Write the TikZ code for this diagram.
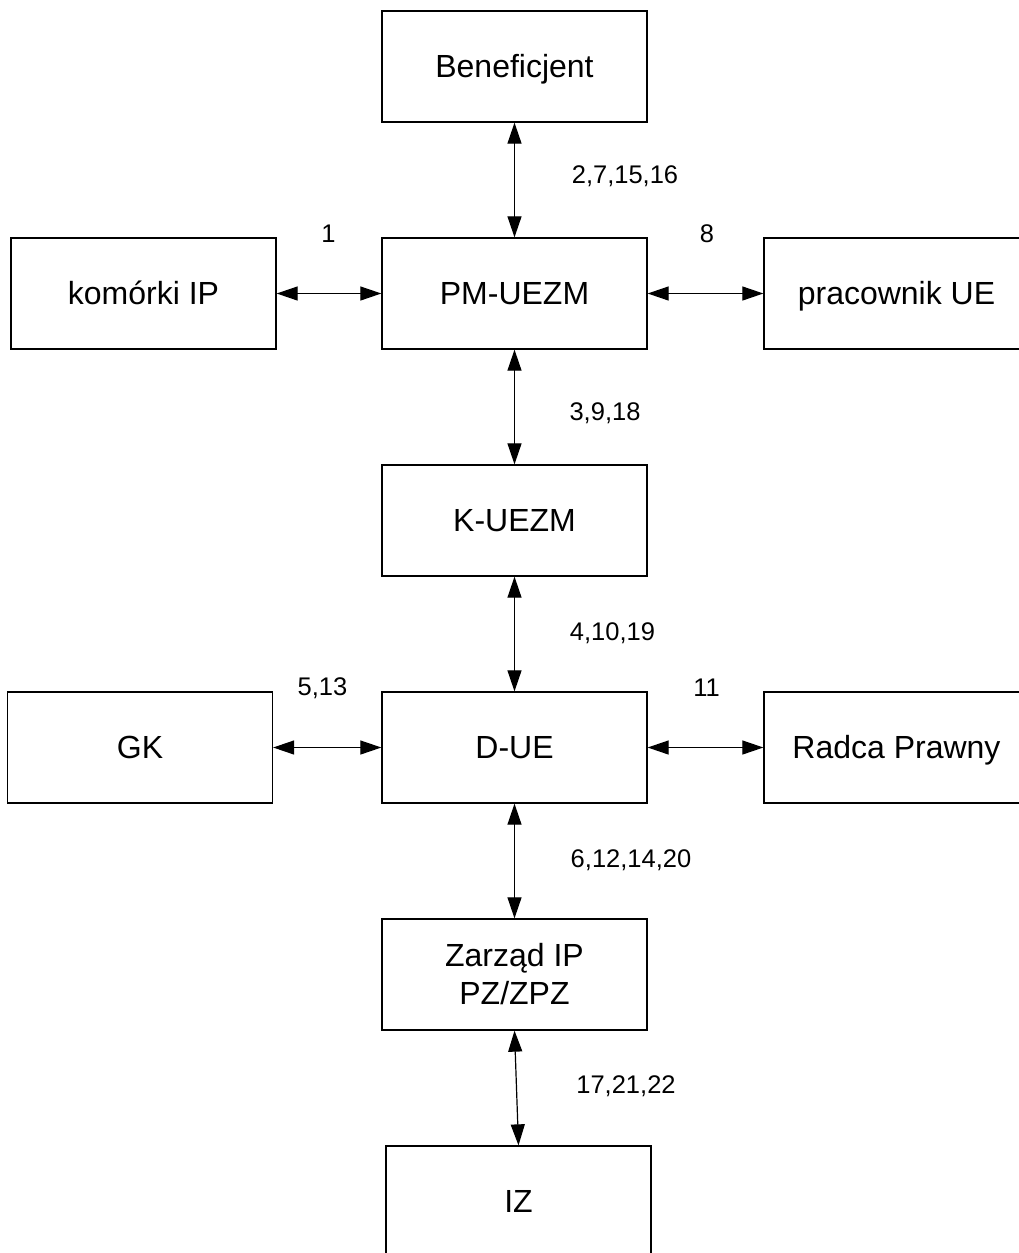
\documentclass[tikz,border=0pt]{standalone}
\usepackage{fontspec}
\setmainfont{Liberation Sans}
\usetikzlibrary{arrows.meta}
\begin{document}
\begin{tikzpicture}[x=1pt,y=-1pt,
  box/.style={draw=black,line width=1.3pt,rectangle,inner sep=0pt,
    minimum width=265pt,minimum height=111pt,align=center,
    font=\fontsize{32}{38}\selectfont},
  oneline/.style={text height=22.9pt,text depth=0pt},
  lab/.style={anchor=base,inner sep=0pt,font=\fontsize{25.5}{30}\selectfont},
  link/.style={line width=1.2pt,{Triangle[length=21pt,width=14pt]}-{Triangle[length=21pt,width=14pt]}}]
\useasboundingbox (0,0) rectangle (1019,1253);
\clip (0,0) rectangle (1019,1253);
% boxes
\node[box,oneline] (ben)   at (514.5,66.5)   {Beneficjent};
\node[box,oneline] (kom)   at (143.5,293.5)  {komórki IP};
\node[box,oneline] (pm)    at (514.5,293.5)  {PM-UEZM};
\node[box,oneline] (prac)  at (896.5,293.5)  {pracownik UE};
\node[box,oneline] (kuezm) at (514.5,520.5)  {K-UEZM};
\node[box,oneline] (gk)    at (140,747.5)    {GK};
\node[box,oneline] (due)   at (514.5,747.5)  {D-UE};
\node[box,oneline] (radca) at (896.5,747.5)  {Radca Prawny};
\node[box]         (zarz)  at (514.5,974.5)  {Zarząd IP\\PZ/ZPZ};
\node[box,oneline] (iz)    at (518.5,1201.5) {IZ};
% connectors
\draw[link] (ben) -- (pm);
\draw[link] (kom) -- (pm);
\draw[link] (pm) -- (prac);
\draw[link] (pm) -- (kuezm);
\draw[link] (kuezm) -- (due);
\draw[link] (gk) -- (due);
\draw[link] (due) -- (radca);
\draw[link] (due) -- (zarz);
\draw[link] (zarz.south) -- (iz.north);
% labels
\node[lab] (l1)  at (625,183)   {2,7,15,16};
\node[lab] (l2)  at (328.5,242) {1};
\node[lab] (l3)  at (707,242)   {8};
\node[lab] (l4)  at (605,420)   {3,9,18};
\node[lab] (l5)  at (612.5,640) {4,10,19};
\node[lab] (l6)  at (322.5,695) {5,13};
\node[lab] (l7)  at (706.5,696) {11};
\node[lab] (l8)  at (631,867)   {6,12,14,20};
\node[lab] (l9)  at (626,1093)  {17,21,22};
\end{tikzpicture}
\end{document}
